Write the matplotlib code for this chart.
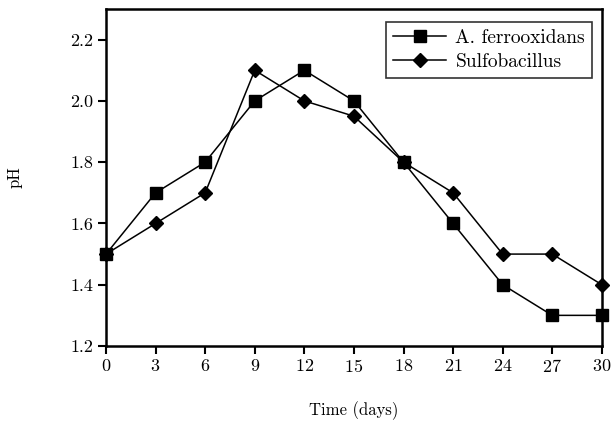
import matplotlib
matplotlib.use("Agg")
import matplotlib.pyplot as plt

days = [0, 3, 6, 9, 12, 15, 18, 21, 24, 27, 30]
ph_ferro = [1.5, 1.7, 1.8, 2.0, 2.1, 2.0, 1.8, 1.6, 1.4, 1.3, 1.3]
ph_sulfo = [1.5, 1.6, 1.7, 2.1, 2.0, 1.95, 1.8, 1.7, 1.5, 1.5, 1.4]
y_ticks = [1.2, 1.4, 1.6, 1.8, 2.0, 2.2]

plt.rcParams["font.family"] = ["cmr10", "DejaVu Serif"]
plt.rcParams["axes.formatter.use_mathtext"] = True

fig = plt.figure(figsize=(6.11, 4.28), dpi=100)
ax = fig.add_axes([0.1735, 0.1916, 0.8115, 0.7874])

ax.plot(days, ph_ferro, color="black", lw=1.1, marker="s", markersize=9,
        label="A. ferrooxidans")
ax.plot(days, ph_sulfo, color="black", lw=1.1, marker="D", markersize=7.5,
        label="Sulfobacillus")

ax.set_xlim(0, 30)
ax.set_ylim(1.2, 2.3)
ax.set_xticks(days)
ax.set_yticks(y_ticks)
ax.set_yticklabels([f"{v:.1f}" for v in y_ticks])
ax.tick_params(direction="out", length=6, width=1.5, labelsize=13,
               top=False, right=False, pad=3)
for s in ax.spines.values():
    s.set_linewidth(1.8)
for line in ax.lines:
    line.set_clip_on(False)

ax.set_xlabel("Time (days)", fontsize=12)
ax.set_ylabel("pH", fontsize=12)
ax.xaxis.set_label_coords(0.5, -0.165)
ax.yaxis.set_label_coords(-0.169, 0.5)

leg = ax.legend(loc="upper right", bbox_to_anchor=(0.98, 0.96), fontsize=14,
                frameon=True, fancybox=False, edgecolor="black",
                handlelength=2.7, borderpad=0.35, labelspacing=0.3,
                handletextpad=0.5, borderaxespad=0)
leg.get_frame().set_linewidth(1.2)

fig.savefig("out.png", dpi=100)
